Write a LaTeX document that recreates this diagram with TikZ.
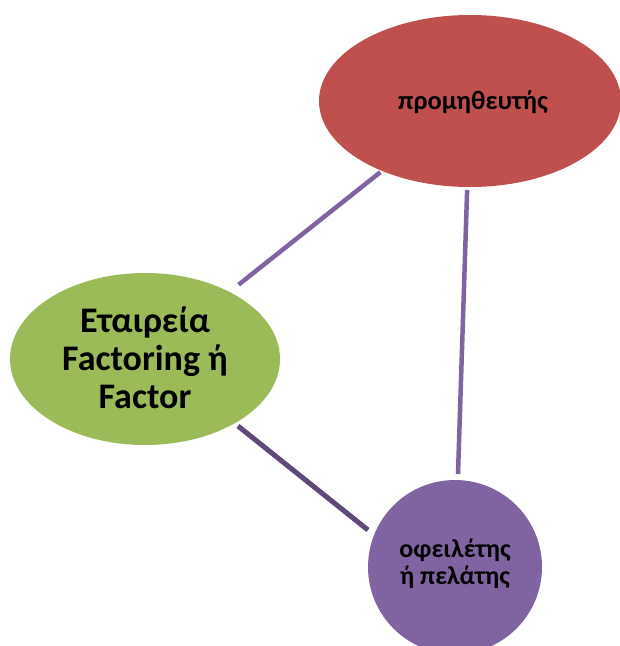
\documentclass[tikz,border=0pt]{standalone}
\usepackage{fontspec}
\setmainfont{Carlito}
\usetikzlibrary{shapes.geometric,calc}
\definecolor{cred}{HTML}{C0504D}
\definecolor{cgreen}{HTML}{9BBB59}
\definecolor{cpurple}{HTML}{8064A2}
\definecolor{cdark}{HTML}{5F497A}
\begin{document}
\begin{tikzpicture}[x=1pt,y=-1pt,
  blob/.style={ellipse, inner sep=0pt, align=center, font=\bfseries},
  link/.style={line width=4.5pt, cpurple},
  darklink/.style={line width=5pt, cdark}]
\useasboundingbox (0,0) rectangle (620,646);
\begin{scope}
\clip (0,0) rectangle (620,646);
\node[blob, fill=cred, minimum width=302pt, minimum height=172pt] (r) at (470,101) {};
\node[blob, fill=cgreen, minimum width=270pt, minimum height=172pt] (g) at (145,359) {};
\node[blob, circle, fill=cpurple, minimum size=174pt] (p) at (455,567) {};
\end{scope}
\node[align=center, font=\bfseries\fontsize{26.5}{30}\selectfont] (rt) at (473,102) {προμηθευτής};
\node[align=center, font=\bfseries\fontsize{36}{38}\selectfont] (gt) at (145,358) {Εταιρεία\\Factoring ή\\Factor};
\node[align=center, font=\bfseries\fontsize{26}{27}\selectfont] (pt) at (455,564) {οφειλέτης\\ή πελάτης};
\draw[link, shorten <=119.5pt, shorten >=114.5pt] (g.center) -- (r.center);
\draw[link, shorten <=89pt, shorten >=93pt] (r.center) -- (p.center);
\coordinate (ga) at (238,426);
\coordinate (pa) at (368,530);
\draw[darklink] (ga) -- (pa);
\end{tikzpicture}
\end{document}
